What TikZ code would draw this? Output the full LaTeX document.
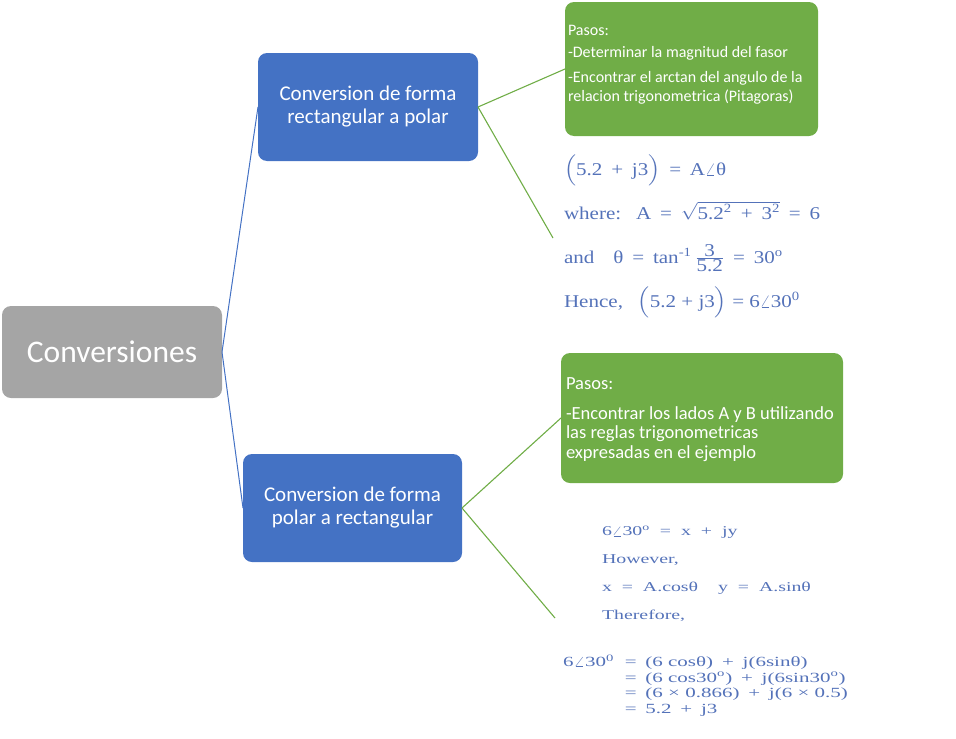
\documentclass[tikz,border=0pt]{standalone}
\usepackage{fontspec}
\usepackage{graphicx}
\usepackage{amsmath}
\setmainfont{Carlito}
\newfontfamily\serifx{Liberation Serif}
\newcommand\fgap{\hspace{0.42em}}
\definecolor{boxblue}{RGB}{68,114,196}
\definecolor{boxgreen}{RGB}{112,173,71}
\definecolor{boxgray}{RGB}{165,165,165}
\definecolor{formulablue}{RGB}{84,114,185}
\begin{document}
\begin{tikzpicture}[x=1pt,y=-1pt,
  every node/.style={inner sep=0pt, outer sep=0pt},
  mainbox/.style={fill=boxgray, rounded corners=9pt, minimum width=220pt, minimum height=92pt, text=white, font=\fontsize{31.5}{36}\selectfont},
  bluebox/.style={fill=boxblue, rounded corners=9pt, minimum width=220pt, minimum height=108pt, text=white, align=center, font=\fontsize{21}{23}\selectfont},
  greenbox/.style={fill=boxgreen, rounded corners=9pt},
  greentext/.style={text=white, align=left, anchor=north west},
  formula/.style={text=formulablue, anchor=base west},
  blueline/.style={draw=boxblue, line width=1pt},
  greenline/.style={draw=boxgreen, line width=1.1pt}]
\useasboundingbox (0,0) rectangle (956,739);

\node[mainbox] (c) at (112,352) {Conversiones};
\node[bluebox] (b1) at (368,107) {Conversion de forma\\rectangular a polar};
\node[bluebox, minimum width=219pt] (b2) at (352.5,508) {Conversion de forma\\polar a rectangular};
\node[greenbox, minimum width=253pt, minimum height=134pt] (g1) at (691.5,69) {};
\node[greenbox, minimum width=282pt, minimum height=130pt] (g2) at (702,418) {};

\node[greentext, font=\fontsize{16}{18.5}\selectfont] (g1t) at (568,25.5)
  {Pasos:\\[3.5pt]-Determinar la magnitud del fasor\\[6.5pt]-Encontrar el arctan del angulo de la\\relacion trigonometrica (Pitagoras)};
\node[greentext, font=\fontsize{18.5}{19.5}\selectfont] (g2t) at (566,377.5)
  {Pasos:\\[10.5pt]-Encontrar los lados A y B utilizando\\las reglas trigonometricas\\expresadas en el ejemplo};

\node[formula, font=\serifx\fontsize{18}{44}\selectfont] (f1) at (564,307) {\scalebox{1.17}[1]{\vbox{\baselineskip=44pt\lineskiplimit=-100pt
\hbox{$\Bigl($5.2\fgap+\fgap j3$\Bigr)$\fgap=\fgap A$\angle$θ}
\hbox{where:\hspace{0.7em}A\fgap=\fgap$\sqrt{\hbox{5.2\textsuperscript{2}\fgap+\fgap 3\textsuperscript{2}}}$\fgap=\fgap 6}
\hbox{and\hspace{0.9em}θ\fgap=\fgap tan\textsuperscript{-1}\,$\frac{\hbox{3}}{\hbox{5.2}}$\fgap=\fgap 30\textsuperscript{o}}
\hbox{Hence,\hspace{0.7em}$\Bigl($5.2 + j3$\Bigr)$ = 6$\angle$30\textsuperscript{0}}}}};

\node[formula, font=\serifx\fontsize{13.5}{27.7}\selectfont] (f2a) at (602,619) {\scalebox{1.47}[1]{\vbox{\baselineskip=27.7pt\lineskiplimit=-100pt
\hbox{6$\angle$30\textsuperscript{o}\enspace=\enspace x\enspace+\enspace jy}
\hbox{However,}
\hbox{x\enspace=\enspace A.cosθ\hspace{1.0em}y\enspace=\enspace A.sinθ}
\hbox{Therefore,}}}};

\node[formula, font=\serifx\fontsize{14}{15.4}\selectfont] (f2b) at (563,713) {\scalebox{1.5}[1]{\begin{tabular}[b]{@{}l@{}l@{}}
6$\angle$30\textsuperscript{0}\hspace{7pt} & =\fgap(6 cosθ)\fgap+\fgap j(6sinθ)\\
 & =\fgap(6 cos30\textsuperscript{o})\fgap+\fgap j(6sin30\textsuperscript{o})\\
 & =\fgap(6 × 0.866)\fgap+\fgap j(6 × 0.5)\\
 & =\fgap 5.2\fgap+\fgap j3
\end{tabular}}};

\coordinate (f1in) at (553,238);
\coordinate (f2in) at (555,618);

\draw[blueline] (c.east) -- (b1.west);
\draw[blueline] (c.east) -- (b2.west);
\draw[greenline] (b1.east) -- (g1.west);
\draw[greenline] (b1.east) -- (f1in);
\draw[greenline] (b2.east) -- (g2.west);
\draw[greenline] (b2.east) -- (f2in);
\end{tikzpicture}
\end{document}
